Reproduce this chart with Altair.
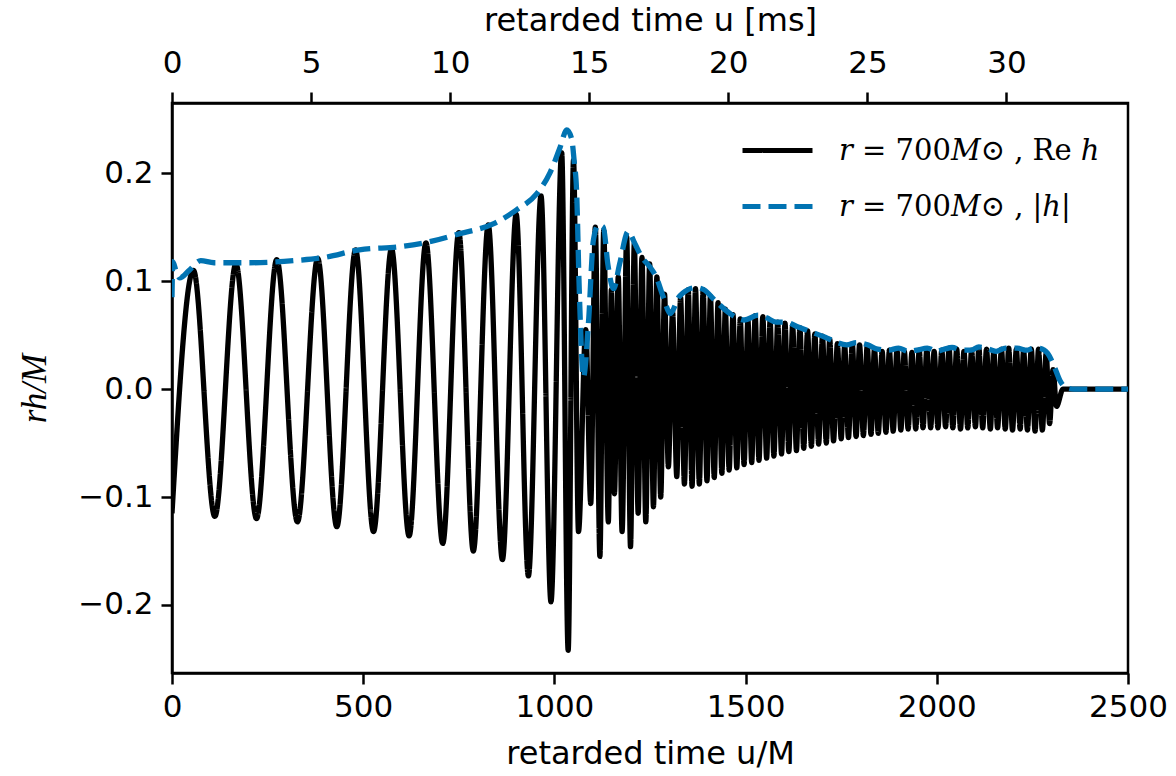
import altair as alt
import pandas as pd

# ---------------- data ----------------
# Re h : extrema of the inspiral (time in M, value in rh/M)
inspiral_t = [0, 56, 112, 167, 221, 274, 328, 381, 431, 480, 527, 574, 620, 664,
              708, 750, 788, 827, 864, 900, 932, 965, 991, 1019, 1036]
inspiral_v = [-0.115, 0.110, -0.118, 0.116, -0.120, 0.120, -0.123, 0.121, -0.1275,
              0.129, -0.132, 0.130, -0.136, 0.1355, -0.143, 0.145, -0.150, 0.152,
              -0.158, 0.162, -0.173, 0.179, -0.197, 0.219, -0.242]

# Re h : extrema just after merger
merger_t = [1050, 1063, 1082, 1095, 1107, 1119, 1129, 1141, 1149, 1157, 1167, 1177,
            1189, 1199, 1209, 1219, 1229, 1239, 1249, 1259, 1268, 1278, 1288, 1298,
            1309, 1320, 1330, 1340]
merger_v = [0.212, -0.132, 0.055, -0.106, 0.150, -0.155, 0.147, -0.123, 0.092, -0.097,
            0.104, -0.132, 0.141, -0.146, 0.135, -0.115, 0.122, -0.123, 0.116, -0.109,
            0.104, -0.100, 0.088, -0.072, 0.072, -0.081, 0.085, -0.088]

# Re h : post-merger oscillation, maxima and minima
ring_peak_t = [1350, 1369, 1389, 1408, 1428, 1447, 1467, 1486, 1506, 1525,
               1545, 1564, 1584, 1603, 1623, 1642, 1662, 1681, 1701, 1720,
               1740, 1759, 1779, 1798, 1818, 1837, 1857, 1876, 1896, 1915,
               1935, 1954, 1974, 1993, 2013, 2032, 2052, 2071, 2091, 2110,
               2130, 2149, 2169, 2188, 2208, 2227, 2247, 2266, 2286, 2304]
ring_peak_v = [0.092, 0.093, 0.092, 0.086, 0.080, 0.074, 0.069, 0.065, 0.064, 0.068,
               0.067, 0.063, 0.062, 0.061, 0.059, 0.057, 0.054, 0.051, 0.049, 0.046,
               0.042, 0.040, 0.042, 0.041, 0.040, 0.037, 0.035, 0.036, 0.037, 0.035,
               0.034, 0.036, 0.037, 0.035, 0.036, 0.038, 0.037, 0.035, 0.036, 0.038,
               0.037, 0.035, 0.037, 0.038, 0.037, 0.036, 0.037, 0.037, 0.033, 0.018]
ring_trough_t = [1360, 1379, 1399, 1418, 1438, 1457, 1477, 1496, 1516, 1535,
                 1555, 1574, 1594, 1613, 1633, 1652, 1672, 1691, 1711, 1730,
                 1750, 1769, 1789, 1808, 1828, 1847, 1867, 1886, 1906, 1925,
                 1945, 1964, 1984, 2003, 2023, 2042, 2062, 2081, 2101, 2120,
                 2140, 2159, 2179, 2198, 2218, 2237, 2257, 2276, 2295, 2313]
ring_trough_v = [-0.090, -0.088, -0.085, -0.082, -0.078, -0.075, -0.073, -0.070, -0.068, -0.066,
                 -0.064, -0.062, -0.060, -0.058, -0.057, -0.055, -0.053, -0.051, -0.050, -0.048,
                 -0.046, -0.045, -0.044, -0.043, -0.042, -0.041, -0.040, -0.039, -0.038, -0.037,
                 -0.037, -0.036, -0.036, -0.036, -0.035, -0.036, -0.037, -0.036, -0.035, -0.036,
                 -0.037, -0.036, -0.037, -0.038, -0.037, -0.038, -0.039, -0.038, -0.032, -0.016]

# Re h : flat tail
tail_t = [2330, 2500]
tail_v = [0.0, 0.0]

# |h| amplitude
abs_t = [0, 2, 10, 20, 45, 75, 110, 200, 320, 400, 490, 600, 680, 753, 840, 901, 954,
         988, 1015, 1032, 1045, 1052, 1058, 1065, 1076, 1089, 1102, 1115, 1128, 1140,
         1155, 1170, 1193, 1210, 1229, 1250, 1266, 1285, 1303, 1325, 1349, 1370, 1391,
         1423, 1459, 1496, 1533, 1555, 1580, 1605, 1634, 1671, 1708, 1740, 1764, 1790,
         1819, 1845, 1874, 1900, 1925, 1948, 1975, 2000, 2020, 2040, 2065, 2090, 2110,
         2131, 2155, 2180, 2210, 2235, 2255, 2270, 2290, 2307, 2322, 2335, 2360, 2500]
abs_v = [0.085, 0.118, 0.110, 0.103, 0.110, 0.119, 0.117, 0.117, 0.119, 0.122, 0.129,
         0.132, 0.137, 0.144, 0.153, 0.166, 0.181, 0.200, 0.224, 0.240, 0.232, 0.210,
         0.184, 0.092, 0.011, 0.061, 0.138, 0.152, 0.150, 0.115, 0.093, 0.115, 0.146,
         0.135, 0.122, 0.113, 0.104, 0.085, 0.070, 0.085, 0.092, 0.094, 0.092, 0.081,
         0.070, 0.064, 0.0685, 0.066, 0.062, 0.062, 0.058, 0.053, 0.048, 0.043, 0.041,
         0.043, 0.041, 0.037, 0.036, 0.038, 0.035, 0.036, 0.038, 0.035, 0.037, 0.0385,
         0.036, 0.036, 0.039, 0.0376, 0.035, 0.038, 0.038, 0.036, 0.038, 0.0376, 0.033,
         0.021, 0.008, 0.002, 0.0, 0.0]

# top axis (milliseconds)
ms_ticks = [0, 5, 10, 15, 20, 25, 30]
ms_max = 34.37          # 2500 M expressed in ms
x_ticks = [0, 500, 1000, 1500, 2000, 2500]
y_ticks = [-0.2, -0.1, 0.0, 0.1, 0.2]

SER_RE = "𝑟 = 700𝑀⊙ , Re ℎ"
SER_ABS = "𝑟 = 700𝑀⊙ , |ℎ|"

re_df = pd.DataFrame({
    "t": inspiral_t + merger_t + ring_peak_t + ring_trough_t + tail_t,
    "v": inspiral_v + merger_v + ring_peak_v + ring_trough_v + tail_v,
}).sort_values("t")
re_df["series"] = SER_RE
abs_df = pd.DataFrame({"t": abs_t, "v": abs_v})
abs_df["series"] = SER_ABS

x_scale = alt.Scale(domain=[0, 2500], nice=False, zero=False)
y_scale = alt.Scale(domain=[-0.263, 0.265], nice=False, zero=False)

leg = alt.Legend(title=None, orient="none", legendX=568, legendY=10,
                 symbolType="stroke", symbolSize=4900, symbolStrokeWidth=5,
                 labelFont="DejaVu Serif", labelFontSize=29, labelColor="black",
                 labelOffset=24, rowPadding=3, padding=0, labelLimit=500)
color = alt.Color("series:N", scale=alt.Scale(domain=[SER_RE, SER_ABS],
                                              range=["#000000", "#0173b2"]), legend=leg)
dash = alt.StrokeDash("series:N", scale=alt.Scale(domain=[SER_RE, SER_ABS],
                                                  range=[[1, 0], [18, 8]]), legend=leg)

x_enc = alt.X("t:Q", scale=x_scale,
              axis=alt.Axis(values=x_ticks, format="d", title="retarded time u/M",
                            labelFlush=False, titlePadding=16))
y_enc = alt.Y("v:Q", scale=y_scale,
              axis=alt.Axis(values=y_ticks, format=".1f", title="rh/M",
                            titleFont="Liberation Serif", titleFontStyle="italic",
                            titleFontSize=35, titlePadding=25))

black = alt.Chart(re_df).mark_line(strokeWidth=5.3, interpolate="monotone", clip=True).encode(
    x=x_enc, y=y_enc, color=color, strokeDash=dash, order="t:Q")
blue = alt.Chart(abs_df).mark_line(strokeWidth=5.3, interpolate="monotone", clip=True).encode(
    x=x_enc, y=y_enc, color=color, strokeDash=dash, order="t:Q")

top = alt.Chart(pd.DataFrame({"ms": ms_ticks})).mark_point(opacity=0).encode(
    x=alt.X("ms:Q", scale=alt.Scale(domain=[0, ms_max], nice=False, zero=False),
            axis=alt.Axis(orient="top", values=ms_ticks, format="d", labelFlush=False,
                          labelPadding=13, title="retarded time u [ms]")))

chart = alt.layer(alt.layer(black, blue), top).resolve_scale(x="independent").properties(
    width=956, height=570,
    autosize=alt.AutoSizeParams(type="none"),
    padding={"left": 172, "top": 103, "right": 48, "bottom": 103},
).configure_view(stroke="black", strokeWidth=2.5).configure_axis(
    grid=False, domainColor="black", domainWidth=2.5, tickColor="black", tickWidth=2.5,
    tickSize=11, labelFont="DejaVu Sans", labelFontSize=31, labelColor="black",
    labelPadding=8, titleFont="DejaVu Sans", titleFontSize=32, titleFontWeight="normal",
    titleColor="black", titlePadding=10)

chart.save("out.html", embed_options={"renderer": "svg", "actions": False})
